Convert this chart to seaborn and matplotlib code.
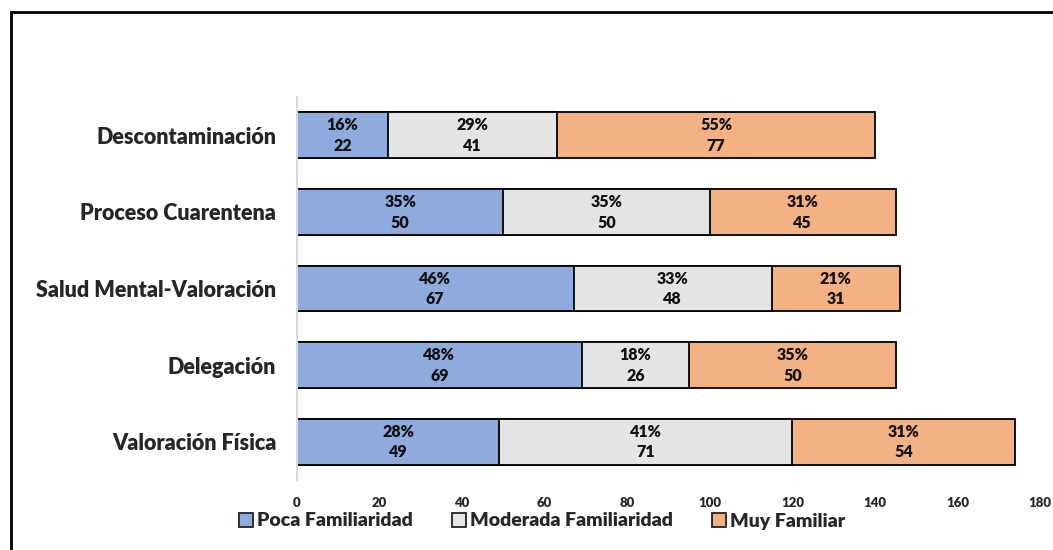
import matplotlib
matplotlib.use("Agg")
import matplotlib.pyplot as plt
import seaborn as sns
import pandas as pd
import numpy as np
from matplotlib.patches import Patch, Rectangle

categories = ["Descontaminación", "Proceso Cuarentena", "Salud Mental-Valoración",
              "Delegación", "Valoración Física"]
poca = [22, 50, 67, 69, 49]
moderada = [41, 50, 48, 26, 71]
muy = [77, 45, 31, 50, 54]
pct_poca = ["16%", "35%", "46%", "48%", "28%"]
pct_moderada = ["29%", "35%", "33%", "18%", "41%"]
pct_muy = ["55%", "31%", "21%", "35%", "31%"]
series_names = ["Poca Familiaridad", "Moderada Familiaridad", "Muy Familiar"]
xticks = [0, 20, 40, 60, 80, 100, 120, 140, 160, 180]

colors = ["#8FAADC", "#E4E4E4", "#F4B183"]

sns.set_theme(style="white")
plt.rcParams["font.family"] = ["Lato", "DejaVu Sans"]
W = "heavy"

df = pd.DataFrame({"cat": categories, "poca": poca, "moderada": moderada, "muy": muy})
df["c1"] = df["poca"]
df["c2"] = df["poca"] + df["moderada"]
df["c3"] = df["c2"] + df["muy"]

fig = plt.figure(figsize=(10.53, 5.5), dpi=100)
ax = fig.add_axes([297 / 1053, 1 - 480 / 550, (1040 - 297) / 1053, 383 / 550])

# stacked bars drawn as cumulative totals, widest first
for col, colr in zip(["c3", "c2", "c1"], colors[::-1]):
    sns.barplot(data=df, x=col, y="cat", orient="h", color=colr, width=0.6,
                edgecolor="black", linewidth=1.3, ax=ax, saturation=1)

for i in range(len(categories)):
    starts = [0, df["c1"][i], df["c2"][i]]
    vals = [poca[i], moderada[i], muy[i]]
    pcts = [pct_poca[i], pct_moderada[i], pct_muy[i]]
    for s, v, p in zip(starts, vals, pcts):
        ax.text(s + v / 2, i - 0.13, p, ha="center", va="center",
                fontsize=11.5, fontweight=W, color="#111111")
        ax.text(s + v / 2, i + 0.14, str(v), ha="center", va="center",
                fontsize=11.5, fontweight=W, color="#111111")

ax.set_xlim(0, 180)
ax.set_ylim(4.5, -0.5)
ax.set_xticks(xticks)
ax.set_xticklabels([str(t) for t in xticks], fontsize=9.5, fontweight=W)
ax.set_yticks(range(len(categories)))
ax.set_yticklabels(categories, fontsize=15.5, fontweight=W)
ax.set_xlabel("")
ax.set_ylabel("")
ax.tick_params(axis="y", length=0, pad=15)
ax.tick_params(axis="x", length=0, pad=12)
for side in ["top", "right", "bottom"]:
    ax.spines[side].set_visible(False)
ax.spines["left"].set_color("#D9D9D9")
ax.spines["left"].set_linewidth(1.5)

handles = [Patch(facecolor=c, edgecolor="#222222", linewidth=1.3, label=n)
           for c, n in zip(colors, series_names)]
fig.legend(handles=handles, loc="center", bbox_to_anchor=(542 / 1053, 1 - 521 / 550),
           ncol=3, frameon=False, prop={"weight": W, "size": 14},
           handlelength=0.75, handleheight=0.75, handletextpad=0.2, columnspacing=2.0)

# outer frame
fig.patches.append(Rectangle((11 / 1053, -0.1), 1.2, 1 - 12 / 550 + 0.1,
                             transform=fig.transFigure, fill=False,
                             edgecolor="black", linewidth=2))

fig.savefig("out.png", dpi=100)
